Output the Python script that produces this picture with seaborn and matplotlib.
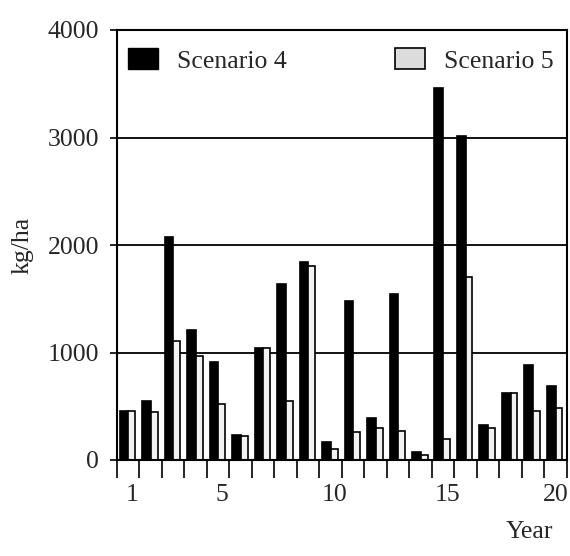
import matplotlib
matplotlib.use("Agg")
import matplotlib.pyplot as plt
import matplotlib.patches as mpatches
from matplotlib.transforms import ScaledTranslation
import numpy as np
import pandas as pd
import seaborn as sns

# Annual values per scenario (kg/ha)
years = list(range(1, 21))
scenario_4 = [460, 550, 2070, 1210, 910, 230, 1040, 1640, 1840, 170,
              1480, 390, 1545, 70, 3460, 3010, 330, 620, 880, 690]
scenario_5 = [460, 450, 1110, 965, 520, 220, 1040, 545, 1805, 100,
              262, 298, 268, 50, 192, 1700, 298, 620, 457, 488]
series_names = ["Scenario 4", "Scenario 5"]
tick_years = [1, 5, 10, 15, 20]
y_ticks = [0, 1000, 2000, 3000, 4000]

df = pd.DataFrame({
    "Year": years * 2,
    "kg/ha": scenario_4 + scenario_5,
    "Scenario": [s for s in series_names for _ in years],
})

sns.set_style("white")
plt.rcParams["font.family"] = ["Liberation Serif", "DejaVu Serif"]
FS = 18.5

W, H = 570, 556
fig = plt.figure(figsize=(W / 100, H / 100), dpi=100)
ax = fig.add_axes([117 / W, 1 - 460 / H, (566.7 - 117) / W, (460 - 30) / H])

fill_5 = "#f2f2f2"
sns.barplot(data=df, x="Year", y="kg/ha", hue="Scenario",
            palette=["black", fill_5], width=0.72, dodge=True,
            edgecolor="black", linewidth=1.2, ax=ax, legend=False)

# Black bar slightly wider, white bar butting against its right side
for k, cont in enumerate(ax.containers):
    for p in cont.patches:
        c = round(p.get_x() + p.get_width() / 2)
        if k == 0:
            p.set_x(c - 0.38)
            p.set_width(0.39)
        else:
            p.set_x(c + 0.01)
            p.set_width(0.30)

ax.set_xlim(-0.5, len(years) - 0.5)
ax.set_ylim(0, 4000)
ax.set_yticks(y_ticks)
ax.set_yticklabels([str(v) for v in y_ticks], fontsize=FS)
ax.tick_params(axis="y", direction="out", length=5, width=1.2,
               pad=8, color="black", left=True)

# Category boundary ticks on x, labels at selected years
ax.set_xticks([years.index(y) for y in tick_years])
ax.set_xticklabels([str(y) for y in tick_years], fontsize=FS)
ax.set_xticks(np.arange(-0.5, len(years), 1), minor=True)
ax.tick_params(axis="x", which="major", length=0, pad=17)
ax.tick_params(axis="x", which="minor", direction="out", length=13,
               width=1.2, color="black", bottom=True)
shift = ScaledTranslation(4 / 100, 0, fig.dpi_scale_trans)
for lab in ax.get_xticklabels()[:-1]:
    lab.set_transform(lab.get_transform() + shift)

ax.set_xlabel("")
ax.set_ylabel("")
ax.yaxis.grid(True, color="black", linewidth=1.3)
ax.xaxis.grid(False)
ax.set_axisbelow(True)
for s in ax.spines.values():
    s.set_visible(True)
    s.set_color("black")
    s.set_linewidth(1.5)

handles = [mpatches.Patch(facecolor="black", edgecolor="black"),
           mpatches.Patch(facecolor="#dcdcdc", edgecolor="black", linewidth=1.2)]
ax.legend(handles, series_names, loc="upper left",
          bbox_to_anchor=((128 - 117) / 449.7, (460 - 48) / 430),
          ncol=2, frameon=False, fontsize=FS, borderpad=0,
          handlelength=1.17, handleheight=0.9, handletextpad=0.74,
          columnspacing=4.2, borderaxespad=0)

fig.text(22 / W, 1 - 245 / H, "kg/ha", rotation=90, ha="center",
         va="center", fontsize=FS)
fig.text(529 / W, 1 - 532 / H, "Year", ha="center", va="center",
         fontsize=FS)

fig.savefig("out.png", dpi=100)
